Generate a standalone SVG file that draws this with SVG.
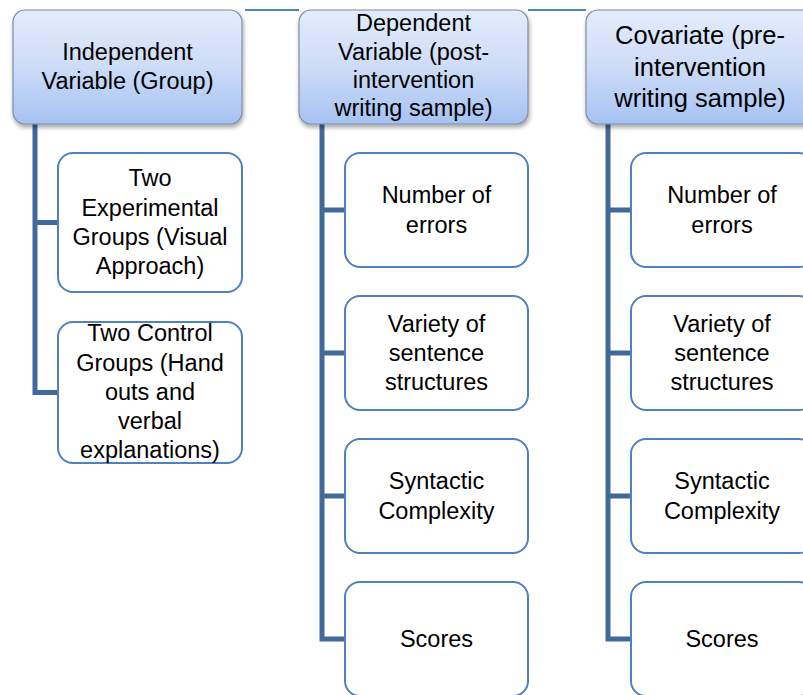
<svg xmlns="http://www.w3.org/2000/svg" width="803" height="695" viewBox="0 0 803 695">
<defs>
<linearGradient id="hg" x1="0" y1="0" x2="0" y2="1">
<stop offset="0" stop-color="#e3ecfb"/>
<stop offset="0.5" stop-color="#cddcf7"/>
<stop offset="1" stop-color="#a6c2f3"/>
</linearGradient>
<filter id="sh" x="-10%" y="-10%" width="125%" height="130%">
<feDropShadow dx="1" dy="3" stdDeviation="2" flood-color="#000" flood-opacity="0.35"/>
</filter>
</defs>
<style>
.head{fill:url(#hg);stroke:#7d8ea5;stroke-width:1.2;filter:url(#sh)}
.child{fill:#fff;stroke:#4f81bd;stroke-width:2}
.conn{fill:none;stroke:#41699c;stroke-width:5;stroke-linejoin:miter}
.top{fill:none;stroke:#4f81bd;stroke-width:2}
text{font-family:"Liberation Sans",Arial,sans-serif;font-size:23.5px;fill:#000;text-anchor:middle}
.big{font-size:25.5px}
</style>
<rect width="803" height="695" fill="#fff"/>
<g id="connectors">
<line class="top" x1="245" y1="10" x2="299" y2="10"/>
<line class="top" x1="528" y1="10" x2="586" y2="10"/>
<path class="conn" d="M35 124 V392.5 H58 M35 222.5 H58"/>
<path class="conn" d="M322 124 V639 H345 M322 210 H345 M322 353 H345 M322 496 H345"/>
<path class="conn" d="M608 124 V639 H631 M608 210 H631 M608 353 H631 M608 496 H631"/>
</g>
<g id="n_independent">
<rect class="head" x="13" y="10" width="229" height="114" rx="12"/>
<text x="127.5" y="60">Independent</text>
<text x="127.5" y="89">Variable (Group)</text>
</g>
<g id="n_dependent">
<rect class="head" x="299" y="10" width="229" height="114" rx="12"/>
<text x="413.5" y="31">Dependent</text>
<text x="413.5" y="60">Variable (post-</text>
<text x="413.5" y="88">intervention</text>
<text x="413.5" y="116">writing sample)</text>
</g>
<g id="n_covariate">
<rect class="head" x="586" y="10" width="229" height="114" rx="12"/>
<text class="big" x="700" y="44">Covariate (pre-</text>
<text class="big" x="700" y="76">intervention</text>
<text class="big" x="700" y="107">writing sample)</text>
</g>
<g id="n_experimental">
<rect class="child" x="58" y="153" width="184" height="139" rx="15"/>
<text x="150" y="186">Two</text>
<text x="150" y="216">Experimental</text>
<text x="150" y="245">Groups (Visual</text>
<text x="150" y="274">Approach)</text>
</g>
<g id="n_control">
<rect class="child" x="58" y="322" width="184" height="141" rx="15"/>
<text x="150" y="341">Two Control</text>
<text x="150" y="371">Groups (Hand</text>
<text x="150" y="400">outs and</text>
<text x="150" y="429">verbal</text>
<text x="150" y="458">explanations)</text>
</g>
<g id="n_dep_errors">
<rect class="child" x="345" y="153" width="183" height="114" rx="15"/>
<text x="436.5" y="203">Number of</text>
<text x="436.5" y="233">errors</text>
</g>
<g id="n_dep_variety">
<rect class="child" x="345" y="296" width="183" height="114" rx="15"/>
<text x="436.5" y="332">Variety of</text>
<text x="436.5" y="361">sentence</text>
<text x="436.5" y="390">structures</text>
</g>
<g id="n_dep_syntactic">
<rect class="child" x="345" y="439" width="183" height="114" rx="15"/>
<text x="436.5" y="489">Syntactic</text>
<text x="436.5" y="519">Complexity</text>
</g>
<g id="n_dep_scores">
<rect class="child" x="345" y="582" width="183" height="114" rx="15"/>
<text x="436.5" y="647">Scores</text>
</g>
<g id="n_cov_errors">
<rect class="child" x="631" y="153" width="183" height="114" rx="15"/>
<text x="722" y="203">Number of</text>
<text x="722" y="233">errors</text>
</g>
<g id="n_cov_variety">
<rect class="child" x="631" y="296" width="183" height="114" rx="15"/>
<text x="722" y="332">Variety of</text>
<text x="722" y="361">sentence</text>
<text x="722" y="390">structures</text>
</g>
<g id="n_cov_syntactic">
<rect class="child" x="631" y="439" width="183" height="114" rx="15"/>
<text x="722" y="489">Syntactic</text>
<text x="722" y="519">Complexity</text>
</g>
<g id="n_cov_scores">
<rect class="child" x="631" y="582" width="183" height="114" rx="15"/>
<text x="722" y="647">Scores</text>
</g>
</svg>
